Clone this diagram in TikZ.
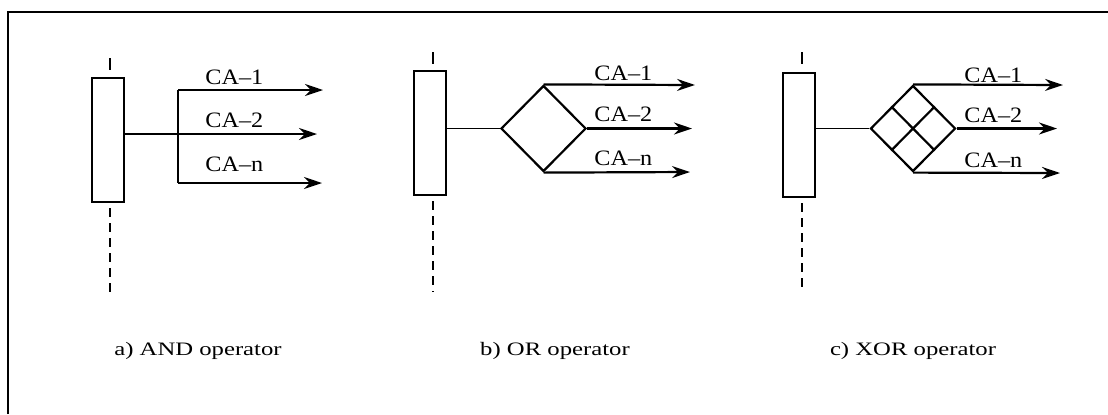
\documentclass[tikz,border=0pt]{standalone}
\usepackage{fontspec}
\setmainfont{Liberation Serif}
\newfontfamily\lblfont[FakeStretch=1.1]{Liberation Serif}
\newfontfamily\capfont[FakeStretch=1.3]{Liberation Serif}
\usetikzlibrary{shapes.geometric,arrows.meta,calc}
\begin{document}
\begin{tikzpicture} [x = 0.5pt, y = -0.5pt,
	oline/.style = {line width = 1.1pt},
	flow/.style = {line width = 1.1pt, -{Stealth[length = 9pt, width = 6pt, inset = 3pt]}},
	lifeline/.style = {line width = 0.9pt, dash pattern = on 4.5pt off 3pt, dash phase = 5pt},
	upline/.style = {line width = 0.9pt, dash pattern = on 6pt off 10pt},
	oprect/.style = {draw, line width = 1.1pt, minimum width = 16pt, minimum height = 62pt, inner sep = 0pt},
	gate/.style = {draw, diamond, line width = 1.1pt, minimum width = 42.5pt, minimum height = 43pt, inner sep = 0pt},
	calabel/.style = {anchor = base west, inner sep = 0pt, font = \lblfont\fontsize{11}{13}\selectfont},
	caption/.style = {anchor = base, inner sep = 0pt, font = \capfont\fontsize{9.5}{11}\selectfont}]
	\useasboundingbox (0,0) rectangle (1108,414);
	% frame
	\draw [line width = 1pt] (8,414) -- (8,12) -- (1108,12);
	% a) AND
	\node [oprect] (ra) at (108,140) {};
	\coordinate (ua) at (110,58);
	\coordinate (da) at (110,295);
	\draw [upline] (ua) -- (ua |- ra.north);
	\draw [lifeline] (da |- ra.south) -- (da);
	\coordinate (ja) at (178,134);
	\coordinate (ta) at (178,90);
	\coordinate (ba) at (178,183);
	\coordinate (ea1) at (323,90);
	\coordinate (ea2) at (317,134);
	\coordinate (ea3) at (322,183);
	\draw [oline] (ra.east |- ja) -- (ja);
	\draw [line width = 1.4pt] (ta) -- (ba);
	\draw [flow] (ta) -- (ea1);
	\draw [flow] (ja) -- (ea2);
	\draw [flow] (ba) -- (ea3);
	\node [calabel] (la1) at (205,84) {CA\textendash 1};
	\node [calabel] (la2) at (205,127) {CA\textendash 2};
	\node [calabel] (la3) at (205,171) {CA\textendash n};
	\node [caption] (ca) at (198,355) {a) AND operator};
	% b) OR
	\node [oprect] (rb) at (430,133) {};
	\coordinate (ub) at (433,52);
	\coordinate (db) at (433,292);
	\draw [upline] (ub) -- (ub |- rb.north);
	\draw [lifeline] (db |- rb.south) -- (db);
	\node [gate] (gb) at (543.5,128.5) {};
	\coordinate (eb1) at (695,85);
	\coordinate (eb2) at (692,128.5);
	\coordinate (eb3) at (690,172);
	\draw [line width = 0.9pt] (rb.east |- gb.west) -- (gb.west);
	\draw [flow] (gb.north) -- (eb1);
	\draw [flow] (gb.east) -- (eb2);
	\draw [flow] (gb.south) -- (eb3);
	\node [calabel] (lb1) at (594,80) {CA\textendash 1};
	\node [calabel] (lb2) at (594,121) {CA\textendash 2};
	\node [calabel] (lb3) at (594,165) {CA\textendash n};
	\node [caption] (cb) at (555,355) {b) OR operator};
	% c) XOR
	\node [oprect] (rc) at (799,135) {};
	\coordinate (uc) at (802,52);
	\coordinate (dc) at (802,292);
	\draw [upline] (uc) -- (uc |- rc.north);
	\draw [lifeline] (dc |- rc.south) -- (dc);
	\node [gate] (gc) at (913,128.5) {};
	\draw [oline] ($(gc.north)!0.5!(gc.west)$) -- ($(gc.south)!0.5!(gc.east)$);
	\draw [oline] ($(gc.north)!0.5!(gc.east)$) -- ($(gc.south)!0.5!(gc.west)$);
	\coordinate (ec1) at (1063,85);
	\coordinate (ec2) at (1057,128.5);
	\coordinate (ec3) at (1060,173);
	\draw [line width = 0.9pt] (rc.east |- gc.west) -- (gc.west);
	\draw [flow] (gc.north) -- (ec1);
	\draw [flow] (gc.east) -- (ec2);
	\draw [flow] (gc.south) -- (ec3);
	\node [calabel] (lc1) at (964,82) {CA\textendash 1};
	\node [calabel] (lc2) at (964,122) {CA\textendash 2};
	\node [calabel] (lc3) at (964,167) {CA\textendash n};
	\node [caption] (cc) at (913,355) {c) XOR operator};
\end{tikzpicture}
\end{document}
